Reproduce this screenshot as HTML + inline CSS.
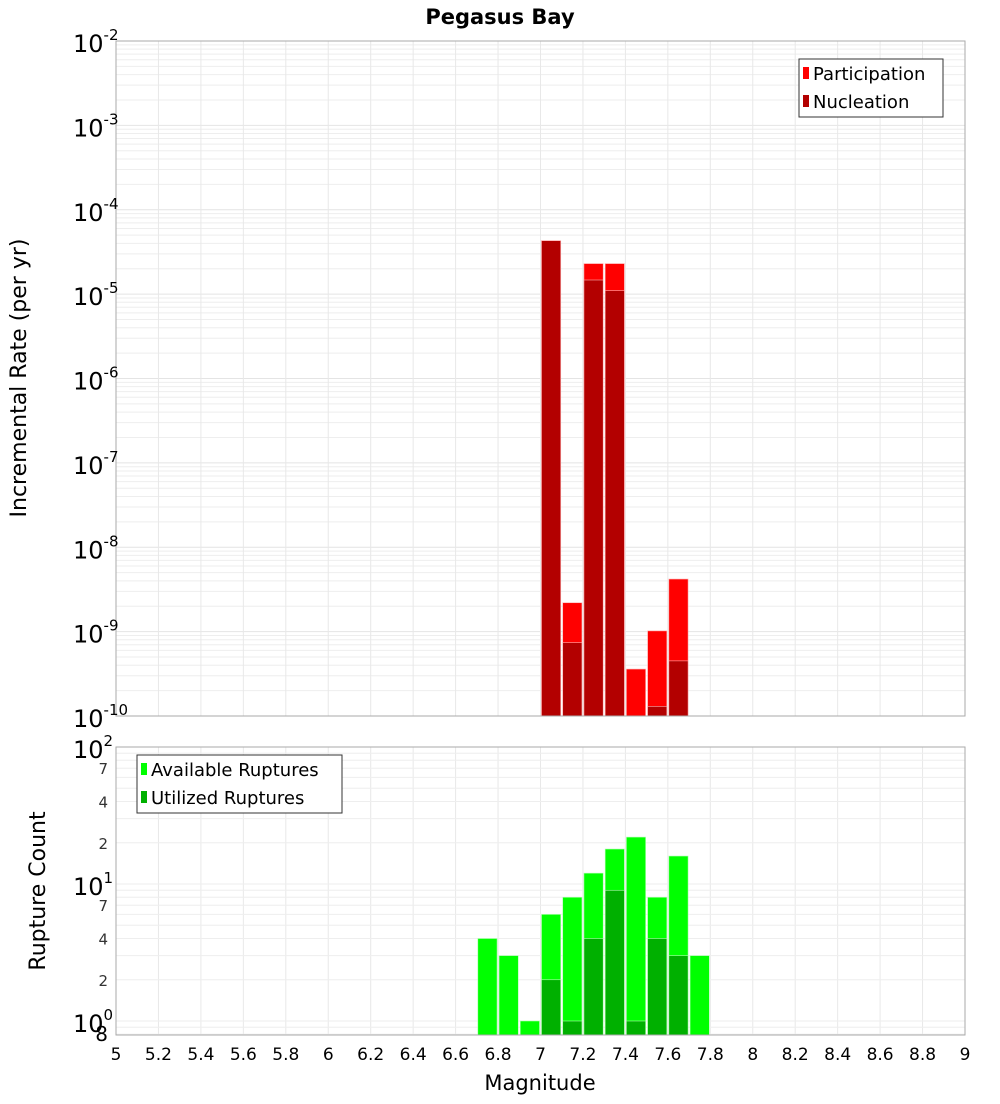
<!DOCTYPE html>
<html><head><meta charset="utf-8"><style>
body{margin:0;background:#fff;font-family:"DejaVu Sans","Liberation Sans",sans-serif}
svg text{font-family:"DejaVu Sans","Liberation Sans",sans-serif}
</style></head><body>
<svg id="chart" width="1000" height="1100" xmlns="http://www.w3.org/2000/svg">
<text x="500" y="24" text-anchor="middle" font-size="21" font-weight="bold">Pegasus Bay</text>
<g id="topplot"></g>
<g id="botplot"></g>
</svg>
<script>
const binStarts=[6.7,6.8,6.9,7.0,7.1,7.2,7.3,7.4,7.5,7.6,7.7];
const participation=[null,null,null,4.3e-5,2.2e-9,2.3e-5,2.3e-5,3.6e-10,1.02e-9,4.2e-9,null];
const nucleation=[null,null,null,4.3e-5,7.4e-10,1.47e-5,1.1e-5,null,1.3e-10,4.5e-10,null];
const available=[4,3,1,6,8,12,18,22,8,16,3];
const utilized=[null,null,null,2,1,4,9,1,4,3,null];
const xTicks=[5,5.2,5.4,5.6,5.8,6,6.2,6.4,6.6,6.8,7,7.2,7.4,7.6,7.8,8,8.2,8.4,8.6,8.8,9];
const topExps=[-2,-3,-4,-5,-6,-7,-8,-9,-10];
const botMinorLabels=[2,4,7];

const NS="http://www.w3.org/2000/svg";
const X0=116,X1=965;
const xs=m=>X0+(m-5)/4*(X1-X0);
const T0=41,T1=716;
const yT=v=>T0+(-2-Math.log10(v))*(T1-T0)/8;
const B0=747,B1=1035;
const yB=v=>B0+(2-Math.log10(v))*137;
function el(p,tag,a){const e=document.createElementNS(NS,tag);for(const k in a)e.setAttribute(k,a[k]);p.appendChild(e);return e;}
const topG=document.getElementById('topplot'),botG=document.getElementById('botplot');

for(let e=-10;e<-2;e++)for(let k=1;k<10;k++){const y=yT(k*Math.pow(10,e));
 const l=el(topG,'line',{x1:X0,x2:X1,y1:y,y2:y,stroke:k==1?'#e4e4e4':'#eeeeee','stroke-width':1});
 
 }
xTicks.forEach(t=>{const x=xs(t);
 const l=el(topG,'line',{x1:x,x2:x,y1:T0,y2:T1,stroke:'#e8e8e8'});
 
 
 const l2=el(botG,'line',{x1:x,x2:x,y1:B0,y2:B1,stroke:'#e8e8e8'});
 
 });
for(let e=-1;e<2;e++)for(let k=1;k<10;k++){const v=k*Math.pow(10,e);if(v<0.8)continue;const y=yB(v);
 const l=el(botG,'line',{x1:X0,x2:X1,y1:y,y2:y,stroke:'#eeeeee'});
 
 }

function bar(g,isTop,m,v,fill,strokeC,name){if(v==null)return;
 const base=isTop?T1:B1;
 const x=xs(m)+1,w=xs(m+0.1)-xs(m)-2,y=(isTop?yT(v):yB(v));
 const r=el(g,'rect',{x:x,y:y,width:w,height:base-y,fill:fill,stroke:strokeC,'stroke-width':0.6});
 
 }
binStarts.forEach((m,i)=>{bar(topG,true,m,participation[i],'#ff0000','#ffb0b0','participation-bar');});
binStarts.forEach((m,i)=>{bar(topG,true,m,nucleation[i],'#b30000','#ffb0b0','nucleation-bar');});
binStarts.forEach((m,i)=>{bar(botG,false,m,available[i],'#00ff00','#b0ffb0','available-bar');});
binStarts.forEach((m,i)=>{bar(botG,false,m,utilized[i],'#00b000','#b0ffb0','utilized-bar');});

let f=el(topG,'rect',{x:X0,y:T0,width:X1-X0,height:T1-T0,fill:'none',stroke:'#aaa'});

f=el(botG,'rect',{x:X0,y:B0,width:X1-X0,height:B1-B0,fill:'none',stroke:'#aaa'});


topExps.forEach(e=>{const y=yT(Math.pow(10,e));
 const t=el(topG,'text',{x:73,y:y+11,'font-size':24});
 
 
 t.textContent='10';
 const s=el(t,'tspan',{dy:-12,'font-size':15});s.textContent=String(e);});
[2,1,0].forEach(e=>{const y=yB(Math.pow(10,e));
 const t=el(botG,'text',{x:73,y:y+11,'font-size':24});
 
 
 t.textContent='10';
 const s=el(t,'tspan',{dy:-12,'font-size':15});s.textContent=String(e);});
[1,10].forEach(d=>botMinorLabels.forEach(k=>{const y=yB(k*d);
 const t=el(botG,'text',{x:108,y:y+6,'text-anchor':'end','font-size':15,fill:'#333'});
 
 
 t.textContent=String(k);}));
let t8=el(botG,'text',{x:108,y:1041,'text-anchor':'end','font-size':20});
t8.textContent='8';

xTicks.forEach(m=>{const t=el(botG,'text',{x:xs(m),y:1060,'text-anchor':'middle','font-size':17});
 
 
 t.textContent=String(m);});
let xt=el(botG,'text',{x:540,y:1090,'text-anchor':'middle','font-size':21});
xt.textContent='Magnitude';
let yt=el(topG,'text',{x:0,y:0,'text-anchor':'middle','font-size':22,transform:'translate(26,378) rotate(-90)'});
yt.textContent='Incremental Rate (per yr)';
let yt2=el(botG,'text',{x:0,y:0,'text-anchor':'middle','font-size':22,transform:'translate(45,891) rotate(-90)'});
yt2.textContent='Rupture Count';

function legend(g,x,y,w,items){const r=el(g,'rect',{x:x,y:y,width:w,height:58,fill:'#fff',stroke:'#333'});
 
 items.forEach((it,i)=>{const yy=y+14+i*28;
  const s=el(g,'rect',{x:x+4,y:yy-6,width:6,height:12,fill:it[1]});
  
  const t=el(g,'text',{x:x+14,y:yy+7,'font-size':18});
  
  t.textContent=it[0];});}
legend(topG,799,59,144,[['Participation','#ff0000'],['Nucleation','#b30000']]);
legend(botG,137,755,205,[['Available Ruptures','#00ff00'],['Utilized Ruptures','#00b000']]);
</script>
</body></html>
